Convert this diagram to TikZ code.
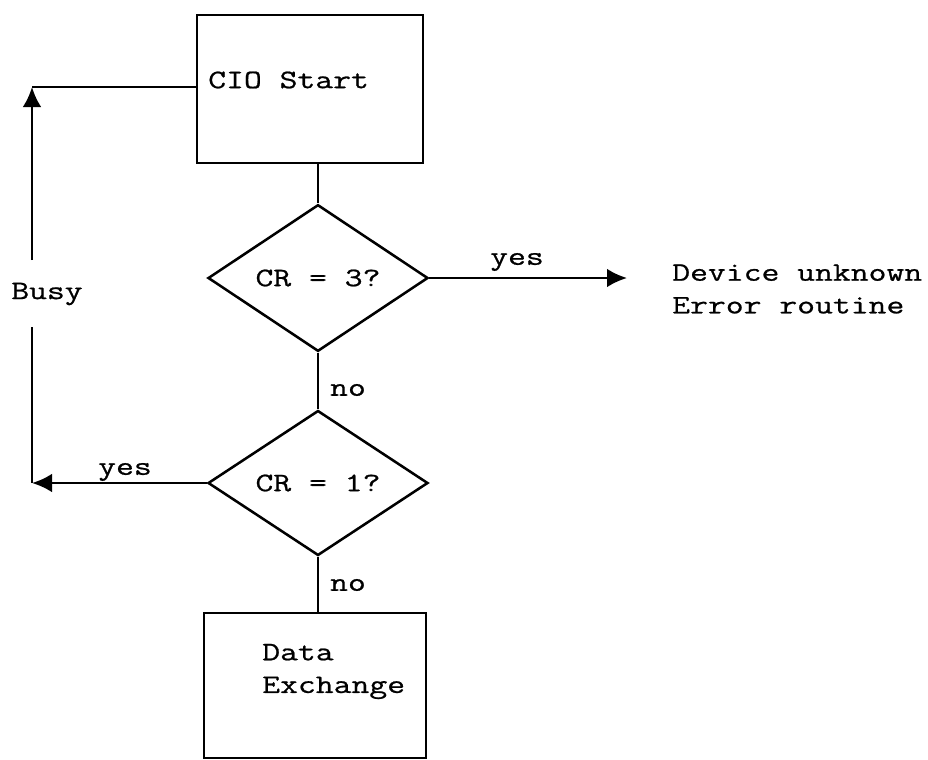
\documentclass[tikz,border=0pt]{standalone}
\usepackage{fontspec}
\newfontfamily\tw[FakeStretch=1.3,FakeBold=0.8]{Latin Modern Mono}
\usetikzlibrary{shapes.geometric,arrows.meta}
\begin{document}
\begin{tikzpicture}[x=0.75pt,y=-0.75pt,
  every node/.style={font=\tw\fontsize{20}{24.5}\selectfont, inner sep=0pt},
  ln/.style={line width=1.9pt},
  arr/.style={ln, -{Latex[length=15pt,width=14pt]}},
  boxnode/.style={draw, ln, rectangle, inner sep=0pt},
  dec/.style={draw, ln, diamond, inner sep=0pt, minimum width=165pt, minimum height=110pt},
]
\fill[white] (0,0) rectangle (928,760);
\useasboundingbox (0,0) rectangle (928,760);

% boxes and decisions
\node[boxnode, minimum width=169.5pt, minimum height=111pt] (cio) at (310,89) {};
\node[anchor=west] (ciot) at (208,80) {CIO Start};
\node[dec] (d1) at (318,278) {CR = 3?};
\node[dec, minimum height=108.75pt] (d2) at (318,483) {CR = 1?};
\node[boxnode, minimum width=166.5pt, minimum height=108.75pt] (dx) at (315,685.5) {};
\node[anchor=west, align=left] (dxt) at (262,671.5) {Data\\Exchange};

% labels
\node[anchor=west, align=left] (dev) at (672,289) {Device unknown\\Error routine};
\node (yes1) at (517,262) {yes};
\node (yes2) at (125,472) {yes};
\node (no1) at (348,390) {no};
\node (no2) at (348,585) {no};
\node (busy) at (47,294) {Busy};

% coordinates
\coordinate (errend) at (627,278);
\coordinate (bl) at (32,483);
\coordinate (tl) at (32,87);
\coordinate (gb) at (32,327);
\coordinate (gt) at (32,260);

% connectors
\draw[ln] (cio.south -| d1.north) -- (d1.north);
\draw[ln] (d1.south) -- (d2.north);
\draw[ln] (d2.south) -- (d2.south |- dx.north);
\draw[arr] (d1.east) -- (errend);
\draw[arr] (d2.west) -- (bl);
\draw[ln] (bl) -- (gb);
\draw[arr] (gt) -- (tl);
\draw[ln] (tl) -- (tl -| cio.west);
\end{tikzpicture}
\end{document}
